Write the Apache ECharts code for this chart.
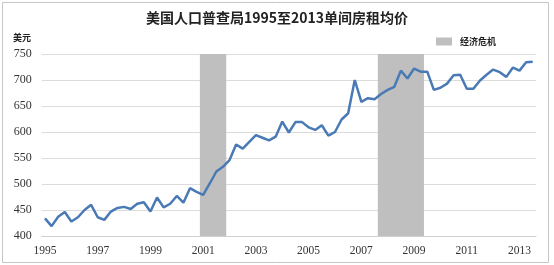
<!DOCTYPE html>
<html>
<head>
<meta charset="utf-8">
<script src="https://cdn.jsdelivr.net/npm/echarts@6/dist/echarts.min.js"></script>
<style>
html,body{margin:0;padding:0;background:#fff;}
#c{width:554px;height:265px;}
</style>
</head>
<body>
<div id="c"></div>
<script>
// Quarterly categories 1995Q1 .. 2013Q3
var startYear = 1995;
var quarterCount = 75;
var categories = [];
for (var i = 0; i < quarterCount; i++) {
  categories.push((startYear + Math.floor(i / 4)) + 'Q' + (i % 4 + 1));
}
// Average single-room rent (USD)
var rentValues = [
  434, 419, 437, 446, 428, 436, 450, 460,
  436, 431, 447, 454, 456, 452, 462, 465,
  447, 474, 455, 462, 477, 464, 492, 485,
  479, 501, 524, 533, 546, 576, 568, 581,
  594, 589, 584, 591, 620, 599, 619, 619,
  609, 604, 613, 593, 600, 624, 636, 700,
  658, 665, 663, 673, 681, 687, 718, 703,
  722, 716, 716, 681, 685, 693, 709, 710,
  683, 683, 699, 710, 720, 715, 706, 724,
  718, 734, 735
];
// Recession periods (first and last quarter of each shaded band)
var recessionStarts = ['2001Q1', '2007Q4'];
var recessionEnds = ['2001Q4', '2009Q2'];
var yTicks = [400, 450, 500, 550, 600, 650, 700, 750];
var xTickLabels = ['1995', '1997', '1999', '2001', '2003', '2005', '2007', '2009', '2011', '2013'];

var yMin = yTicks[0], yMax = yTicks[yTicks.length - 1];
var bandData = recessionStarts.map(function (s, k) {
  return [categories.indexOf(s), categories.indexOf(recessionEnds[k])];
});

function renderBand(params, api) {
  var s = api.value(0), e = api.value(1);
  var bw = api.size([1, 0])[0];
  var p0 = api.coord([s, yMax]);
  var p1 = api.coord([e, yMin]);
  return {
    type: 'rect',
    shape: {x: p0[0] - bw / 2, y: p0[1], width: p1[0] - p0[0] + bw, height: p1[1] - p0[1]},
    style: {fill: api.visual('color')}
  };
}

var chart = echarts.init(document.getElementById('c'), null, {renderer: 'canvas'});
chart.setOption({
  animation: false,
  backgroundColor: '#ffffff',
  title: {
    text: '美国人口普查局1995至2013单间房租均价',
    left: 'center',
    top: 11,
    padding: 0,
    textStyle: {
      fontFamily: '"Noto Sans CJK SC", sans-serif',
      fontSize: 14,
      fontWeight: 'bold',
      color: '#222'
    }
  },
  legend: {
    data: [{name: '经济危机', icon: 'rect'}],
    left: 436,
    top: 37,
    padding: 0,
    itemWidth: 16,
    itemHeight: 8,
    textStyle: {
      fontFamily: '"Noto Sans CJK SC", sans-serif',
      fontSize: 9,
      fontWeight: 'bold',
      color: '#222',
      padding: [0, 0, 0, 3]
    }
  },
  graphic: [
    {
      type: 'rect',
      shape: {x: 2.5, y: 2.5, width: 546, height: 260},
      style: {fill: 'none', stroke: '#c6c6c6', lineWidth: 1},
      silent: true
    },
    {
      type: 'text',
      left: 13,
      top: 33,
      style: {
        text: '美元',
        font: 'bold 9px "Noto Sans CJK SC", sans-serif',
        fill: '#222'
      }
    }
  ],
  grid: {left: 41.7, top: 54, width: 494.3, height: 182, containLabel: false},
  xAxis: {
    type: 'category',
    data: categories,
    boundaryGap: true,
    axisLine: {show: true, lineStyle: {color: '#d0d0d0', width: 1}},
    axisTick: {show: false},
    axisLabel: {
      interval: 7,
      margin: 9,
      fontFamily: '"Liberation Serif", serif',
      fontSize: 11.5,
      color: '#333',
      formatter: function (v) {
        var y = v.slice(0, 4);
        return xTickLabels.indexOf(y) >= 0 ? y : '';
      }
    },
    splitLine: {show: false}
  },
  yAxis: {
    type: 'value',
    min: yMin,
    max: yMax,
    interval: 50,
    axisLine: {show: false},
    axisTick: {show: false},
    axisLabel: {
      margin: 10,
      fontFamily: '"Liberation Serif", serif',
      fontSize: 12,
      color: '#333'
    },
    splitLine: {lineStyle: {color: '#dcdcdc', width: 1}}
  },
  series: [
    {
      name: '经济危机',
      type: 'custom',
      renderItem: renderBand,
      data: bandData,
      encode: {x: [0, 1]},
      itemStyle: {color: '#bfbfbf'},
      z: 1
    },
    {
      name: '房租',
      type: 'line',
      data: rentValues,
      showSymbol: false,
      symbol: 'none',
      lineStyle: {color: '#4a7ab5', width: 2.5},
      z: 3
    }
  ]
});
</script>
</body>
</html>
